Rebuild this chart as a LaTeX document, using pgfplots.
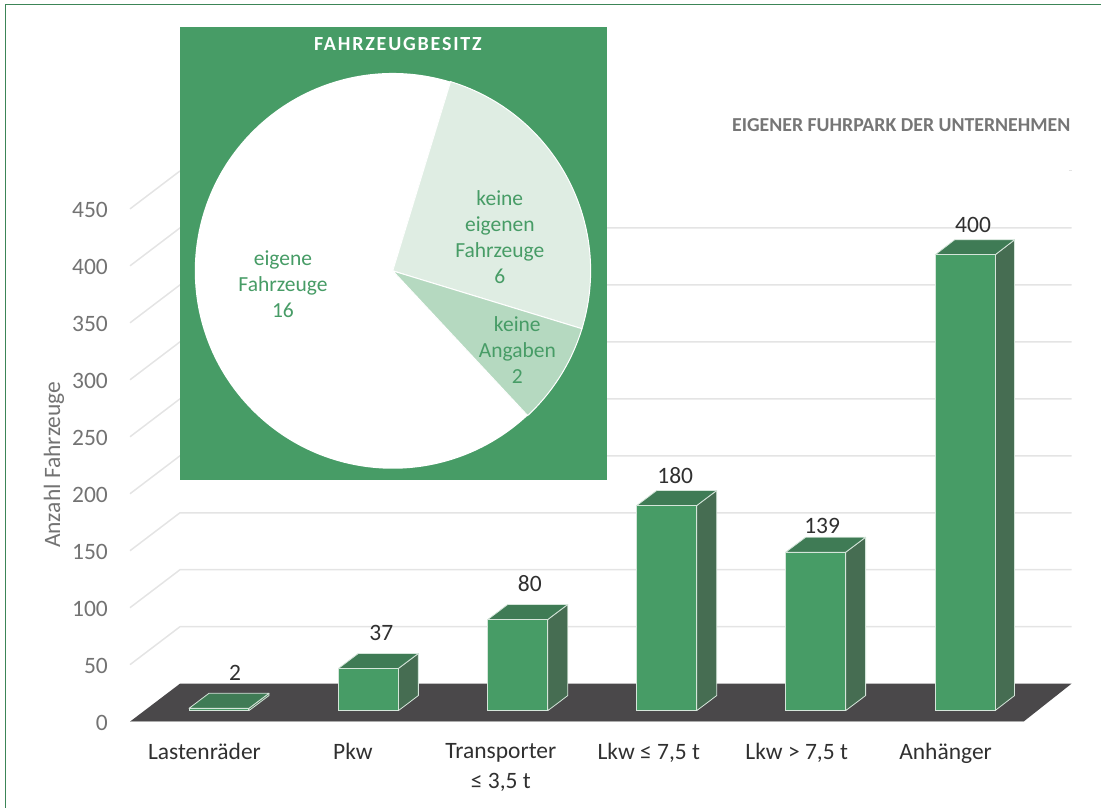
\documentclass[border=0pt]{standalone}
\usepackage{fontspec}
\setmainfont{Carlito}
\usepackage{pgfplots}
\pgfplotsset{compat=1.18}
\definecolor{gr}{HTML}{479C66}
\definecolor{grtop}{HTML}{3F7B55}
\definecolor{grside}{HTML}{466D52}
\definecolor{gredge}{HTML}{D5E5DA}
\definecolor{floorc}{HTML}{4A484A}
\definecolor{gridc}{HTML}{E4E4E4}
\definecolor{ticktxt}{HTML}{737373}
\definecolor{titletxt}{HTML}{767676}
\definecolor{txt}{HTML}{303030}
\definecolor{pieA}{HTML}{DFEDE3}
\definecolor{pieB}{HTML}{B5D9C0}
\newcommand\tf{\fontsize{21.5}{26}\selectfont}
\newcommand\af{\fontsize{23.5}{30}\selectfont}
\pgfplotsset{
  canvas/.style={scale only axis,width=1101pt,height=808pt,xmin=0,xmax=1101,clip=false,
    at={(0,0)},anchor=south west},
}
\begin{document}
\begin{tikzpicture}
% ---- wall, floor and value axis ----
\begin{axis}[canvas,
  ymin=-75.44,ymax=633.33,
  axis line style={draw=none},
  axis x line*=bottom, axis y line*=left,
  major tick length=0pt,
  ytick={0,50,100,150,200,250,300,350,400,450},
  yticklabel style={font=\af,text=ticktxt,anchor=east,inner sep=0pt,xshift=108pt,yshift=-1.5pt},
  /pgf/number format/assume math mode=true,
  xtick={204.5,353,501,649,797,946},
  xticklabels={Lastenräder,Pkw,{Transporter\\≤ 3,5 t},{Lkw ≤ 7,5 t},{Lkw > 7,5 t},Anhänger},
  xticklabel style={font=\af,text=txt,align=center,anchor=north,inner sep=0pt,yshift=64.5pt},
  every axis y label/.style={at={(axis cs:54,225.4)},rotate=90,anchor=center},
  ylabel={\af\color{ticktxt}Anzahl Fahrzeuge},
]
\addplot[gridc,line width=1.5pt,line join=round] coordinates {(130,50)(180,83.3)(1072,83.3)};
\addplot[gridc,line width=1.5pt] coordinates {(130,100)(180,133.3)(1072,133.3)};
\addplot[gridc,line width=1.5pt] coordinates {(130,150)(180,183.3)(1072,183.3)};
\addplot[gridc,line width=1.5pt] coordinates {(130,200)(180,233.3)(1072,233.3)};
\addplot[gridc,line width=1.5pt] coordinates {(130,250)(180,283.3)(1072,283.3)};
\addplot[gridc,line width=1.5pt] coordinates {(130,300)(180,333.3)(1072,333.3)};
\addplot[gridc,line width=1.5pt] coordinates {(130,350)(180,383.3)(1072,383.3)};
\addplot[gridc,line width=1.5pt] coordinates {(130,400)(180,433.3)(1072,433.3)};
\addplot[gridc,line width=1.5pt] coordinates {(130,450)(180,483.3)};
\addplot[gridc,line width=1pt] coordinates {(1069,483.3)(1072,483.3)};
\addplot[fill=floorc,draw=none] coordinates {(130,0)(1024,0)(1072,33.3)(180,33.3)} --cycle;
\addplot[gridc!75!black,line width=1pt] coordinates {(130,0)(1024,0)};
\end{axis}
% ---- bars ----
\begin{axis}[canvas,hide axis,ymin=-85.09,ymax=623.68,
  /pgf/number format/assume math mode=true]
\pgfplotsset{
  side/.style={fill=grside,draw=gredge,line width=0.8pt,line join=round},
  topf/.style={fill=grtop,draw=gredge,line width=0.8pt,line join=round},
  front/.style={ybar,bar width=60pt,fill=gr,draw=gredge,line width=1pt},
}
\addplot[side] coordinates {(249,0)(269,13.2)(269,15.2)(249,2)} --cycle;
\addplot[topf] coordinates {(189,2)(209,15.2)(269,15.2)(249,2)} --cycle;
\addplot[side] coordinates {(398.5,0)(418.5,13.2)(418.5,50.2)(398.5,37)} --cycle;
\addplot[topf] coordinates {(338.5,37)(358.5,50.2)(418.5,50.2)(398.5,37)} --cycle;
\addplot[side] coordinates {(548,0)(568,13.2)(568,93.2)(548,80)} --cycle;
\addplot[topf] coordinates {(488,80)(508,93.2)(568,93.2)(548,80)} --cycle;
\addplot[side] coordinates {(697,0)(717,13.2)(717,193.2)(697,180)} --cycle;
\addplot[topf] coordinates {(637,180)(657,193.2)(717,193.2)(697,180)} --cycle;
\addplot[side] coordinates {(846,0)(866,13.2)(866,152.2)(846,139)} --cycle;
\addplot[topf] coordinates {(786,139)(806,152.2)(866,152.2)(846,139)} --cycle;
\addplot[side] coordinates {(995.5,0)(1015,13.2)(1015,413.2)(995.5,400)} --cycle;
\addplot[topf] coordinates {(935.5,400)(955,413.2)(1015,413.2)(995.5,400)} --cycle;
\addplot[front] coordinates {(219,2)(368.5,37)(518,80)(667,180)(816,139)(965.5,400)};
\addplot[draw=none,mark=none,point meta=explicit,
  nodes near coords,
  nodes near coords style={anchor=center,inner sep=0pt,font=\af,text=txt,
     /pgf/number format/fixed,/pgf/number format/precision=0}]
  table[x=lx,y=ly,meta=val] {
  lx ly val
  235 33.4 2
  381.5 68.5 37
  530 111.5 80
  675.5 206.2 180
  822.5 162.4 139
  973.5 426.4 400
};
\end{axis}
% ---- panel, pie, titles ----
\begin{axis}[canvas,hide axis,ymin=0,ymax=808,y dir=reverse]
\addplot[fill=gr,draw=none] coordinates {(180,27)(607.5,27)(607.5,480)(180,480)} --cycle;
\def\pr{198pt}
\fill[white] (axis cs:392.8,271) -- ++(-47:\pr) arc[start angle=-47,end angle=-287,radius=\pr] -- cycle;
\filldraw[fill=pieA,draw=white,line width=1pt] (axis cs:392.8,271) -- ++(73:\pr) arc[start angle=73,end angle=-17,radius=\pr] -- cycle;
\filldraw[fill=pieB,draw=white,line width=1pt] (axis cs:392.8,271) -- ++(-17:\pr) arc[start angle=-17,end angle=-47,radius=\pr] -- cycle;
\node[text=white,font=\fontsize{20}{24}\bfseries\selectfont\addfontfeature{LetterSpace=9}] at (axis cs:398,44) {FAHRZEUGBESITZ};
\node[text=gr,font=\tf,align=center] at (axis cs:283,284) {eigene\\Fahrzeuge\\16};
\node[text=gr,font=\tf,align=center] at (axis cs:500,237) {keine\\eigenen\\Fahrzeuge\\6};
\node[text=gr,font=\tf,align=center] at (axis cs:517.5,350) {keine\\Angaben\\2};
\node[text=titletxt,font=\fontsize{19.8}{22}\bfseries\selectfont,anchor=east,inner sep=0pt] at (axis cs:1071,125) {EIGENER FUHRPARK DER UNTERNEHMEN};
\addplot[gr!85!black,line width=1pt] coordinates {(5,808)(5,5)(1101,5)};
\end{axis}
\end{tikzpicture}
\end{document}
